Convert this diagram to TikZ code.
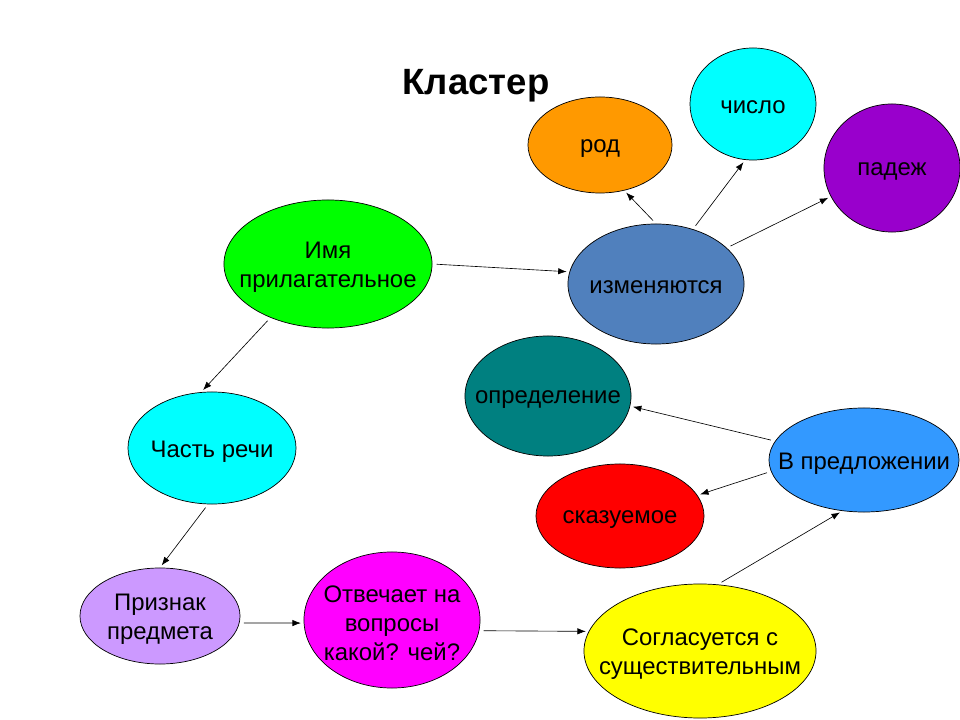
\documentclass[tikz,border=0pt]{standalone}
\usepackage{fontspec}
\setmainfont{Liberation Sans}
\usetikzlibrary{shapes.geometric,arrows.meta}

\definecolor{rodC}{HTML}{FF9900}
\definecolor{chisloC}{HTML}{00FFFF}
\definecolor{padezhC}{HTML}{9900CC}
\definecolor{izmC}{HTML}{5080BD}
\definecolor{imyaC}{HTML}{00FF00}
\definecolor{oprC}{HTML}{008080}
\definecolor{chastC}{HTML}{00FFFF}
\definecolor{vpredC}{HTML}{3399FF}
\definecolor{skazC}{HTML}{FF0000}
\definecolor{priznC}{HTML}{CC99FF}
\definecolor{otvC}{HTML}{FF00FF}
\definecolor{soglC}{HTML}{FFFF00}

\begin{document}
\begin{tikzpicture}[x=0.025cm,y=-0.025cm,
blob/.style={ellipse,draw,line width=0.5pt,inner sep=0pt},
txt/.style={font=\fontsize{17}{20.5}\selectfont,align=center,text=black,yshift=-2.5pt},
arr/.style={-{Latex[length=6pt,width=4.5pt]},line width=0.45pt,shorten <=3pt,shorten >=2pt}
]
\useasboundingbox[fill=white] (0,0) rectangle (960,720);
\node[font=\fontsize{26}{30}\selectfont\bfseries] (title) at (476,86) {Кластер};
% top group
\node[blob,fill=rodC,minimum width=3.6cm,minimum height=2.4cm,label={[txt]center:род}] (rod) at (600,145) {};
\node[blob,fill=chisloC,minimum width=3.15cm,minimum height=2.8cm,label={[txt]center:число}] (chislo) at (753,104) {};
\node[blob,fill=padezhC,minimum width=3.4cm,minimum height=3.2cm,label={[txt]center:падеж}] (padezh) at (892,168) {};
\node[blob,fill=izmC,minimum width=4.4cm,minimum height=3cm,label={[txt]center:изменяются}] (izm) at (656,284) {};
\node[blob,fill=imyaC,minimum width=5.2cm,minimum height=3.2cm,label={[txt]center:Имя\\прилагательное}] (imya) at (328,264) {};
% middle
\node[blob,fill=oprC,minimum width=4.15cm,minimum height=3cm,label={[txt]center:определение}] (opr) at (548,396) {};
\node[blob,fill=chastC,minimum width=4.2cm,minimum height=2.8cm,label={[txt]center:Часть речи}] (chast) at (212,448) {};
\node[blob,fill=vpredC,minimum width=4.75cm,minimum height=2.6cm,label={[txt]center:В предложении}] (vpred) at (864,460) {};
\node[blob,fill=skazC,minimum width=4.2cm,minimum height=2.6cm,label={[txt]center:сказуемое}] (skaz) at (620,516) {};
% bottom row
\node[blob,fill=priznC,minimum width=4cm,minimum height=2.4cm,label={[txt]center:Признак\\предмета}] (prizn) at (160,616) {};
\node[blob,fill=otvC,minimum width=4.4cm,minimum height=3.4cm,label={[txt]center:Отвечает на\\вопросы\\какой? чей?}] (otv) at (392,620) {};
\node[blob,fill=soglC,minimum width=5.8cm,minimum height=3.35cm,label={[txt]center:Согласуется с\\существительным}] (sogl) at (700,651) {};
% arrows
\draw[arr] (imya.0) -- (izm.172);
\draw[arr] (izm.90) -- (rod.-62);
\draw[arr] (izm.56) -- (chislo.-98);
\draw[arr] (izm.27) -- (padezh.205);
\draw[arr] (imya.223) -- (chast.101);
\draw[arr] (chast.-94) -- (prizn.90);
\draw[arr] (prizn.-5) -- (otv.182);
\draw[arr] (otv.-7) -- (sogl.170);
\draw[arr] (sogl.75) -- (vpred.-113);
\draw[arr] (vpred.168) -- (opr.-7);
\draw[arr] (vpred.187) -- (skaz.15);
\end{tikzpicture}
\end{document}
